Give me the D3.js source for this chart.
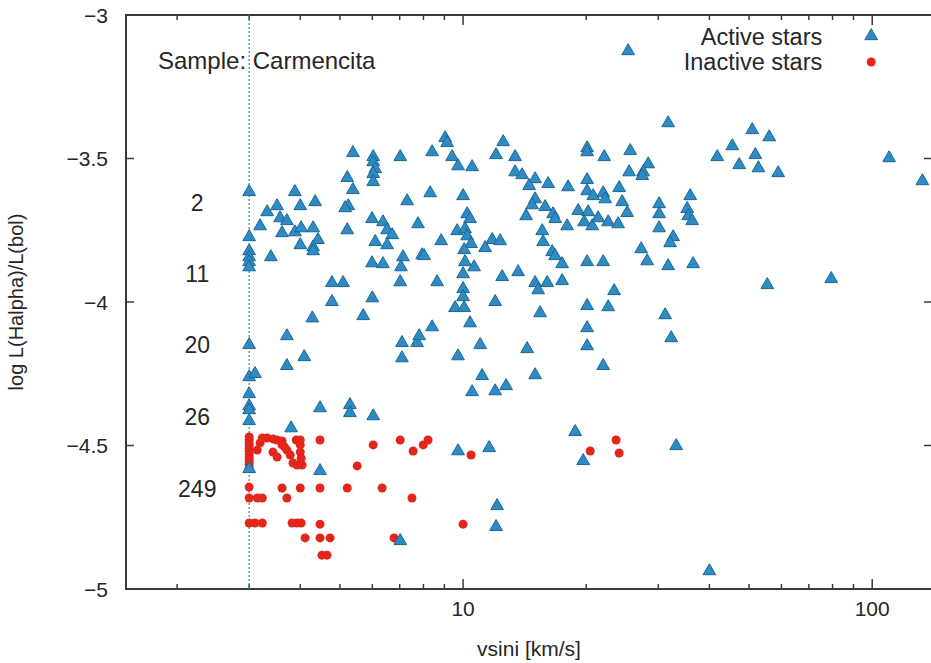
<!DOCTYPE html>
<html>
<head>
<meta charset="utf-8">
<script src="https://cdn.jsdelivr.net/npm/d3@7"></script>
<style>
  body { margin: 0; background: #fff; }
  text { font-family: "Liberation Sans", Arial, Helvetica, sans-serif; fill: #262626; }
</style>
</head>
<body>
<div id="chart"></div>
<script>
// [vsini km/s, log L(Halpha)/L(bol)]
var activeStars = [
  [3,-3.62],[3,-3.777],[3,-3.826],[3,-3.847],[3,-3.864],[3,-3.882],[3,-4.153],[3,-4.265],
  [3,-4.324],[3,-4.366],[3,-4.38],[3,-4.418],[3,-4.585],[3.10,-4.254],
  [3.88,-3.62],[4.35,-3.655],[3.51,-3.669],[3.32,-3.69],[4.00,-3.669],[3.57,-3.711],[3.71,-3.721],
  [3.19,-3.739],[3.61,-3.763],[3.88,-3.76],[4.02,-3.746],[4.30,-3.746],[4.42,-3.787],[4.00,-3.805],
  [4.30,-3.812],[4.30,-3.826],[3.39,-3.847],[5.21,-3.571],[5.38,-3.613],[5.38,-3.484],[6.03,-3.498],
  [6.03,-3.516],[6.10,-3.54],[6.03,-3.557],[6.03,-3.585],[7.02,-3.498],[5.24,-3.669],[5.15,-3.676],
  [5.21,-3.753],[5.99,-3.714],[6.37,-3.725],[6.52,-3.753],[6.71,-3.77],[6.10,-3.794],[6.52,-3.805],
  [7.30,-3.652],[8.31,-3.624],[7.76,-3.732],[7.94,-3.84],[8.03,-3.843],[7.13,-3.847],[5.99,-3.868],
  [6.37,-3.871],[7.05,-3.882],[4.78,-3.937],[5.09,-3.937],[7.02,-3.934],[6.0,-3.99],[4.78,-4.003],
  [4.28,-4.06],[5.70,-4.052],[8.64,-3.934],[3.71,-4.122],[4.09,-4.195],[3.71,-4.226],[4.47,-4.373],
  [5.29,-4.362],[5.29,-4.39],[6.03,-4.401],[3.80,-4.443],[7.09,-4.146],[7.72,-4.146],[7.81,-4.122],
  [7.09,-4.199],[8.40,-4.091],[4.47,-4.592],[7.02,-4.836],
  [9.04,-3.432],[9.14,-3.449],[8.40,-3.481],[12.53,-3.446],[12.04,-3.491],[13.40,-3.498],[9.40,-3.498],
  [9.72,-3.53],[10.52,-3.533],[13.40,-3.551],[13.94,-3.561],[15.0,-3.575],[14.50,-3.599],[16.14,-3.592],
  [18.06,-3.603],[20.1,-3.467],[20.1,-3.481],[22.13,-3.498],[20.1,-3.578],[20.1,-3.617],[20.8,-3.634],
  [22.0,-3.624],[22.25,-3.645],[24.07,-3.606],[24.48,-3.655],[10.0,-3.634],[15.0,-3.645],[14.75,-3.666],
  [15.87,-3.672],[16.60,-3.697],[16.79,-3.714],[14.26,-3.704],[19.11,-3.686],[20.22,-3.69],[19.77,-3.725],
  [20.68,-3.739],[21.38,-3.711],[22.63,-3.725],[23.93,-3.732],[17.96,-3.739],[10.23,-3.697],[10.40,-3.714],
  [9.67,-3.756],[10.11,-3.749],[10.23,-3.774],[8.84,-3.791],[11.78,-3.787],[12.32,-3.791],[10.46,-3.801],
  [10.06,-3.822],[11.32,-3.815],[15.61,-3.756],[15.69,-3.794],[16.51,-3.829],[16.79,-3.843],[17.46,-3.871],
  [20.1,-3.864],[22.0,-3.864],[10.11,-3.864],[10.64,-3.882],
  [10.0,-3.906],[12.46,-3.916],[13.63,-3.899],[15.0,-3.937],[16.05,-3.937],[15.26,-3.962],[17.46,-3.93],
  [23.40,-3.965],[10.0,-3.958],[10.0,-3.986],[9.56,-4.024],[10.06,-4.024],[11.98,-4.003],[15.43,-4.042],
  [20.1,-4.017],[22.63,-4.021],[10.40,-4.077],[20.1,-4.094],[11.01,-4.153],[14.34,-4.167],[20.1,-4.157],
  [9.72,-4.192],[22.0,-4.226],[11.13,-4.261],[15.0,-4.258],[10.52,-4.317],[11.98,-4.314],[12.74,-4.296],
  [25.32,-3.129],[31.71,-3.38],[50.9,-3.404],[56.0,-3.429],[45.5,-3.46],[41.8,-3.498],[51.8,-3.491],
  [47.3,-3.526],[52.7,-3.537],[58.9,-3.554],[110,-3.502],[132.6,-3.582],[25.61,-3.477],[28.34,-3.523],
  [27.55,-3.551],[27.40,-3.564],[25.46,-3.551],[30.14,-3.662],[35.9,-3.634],[35.3,-3.679],[35.5,-3.704],
  [36.3,-3.721],[25.18,-3.693],[30.14,-3.697],[30.14,-3.746],[32.62,-3.777],[32.07,-3.798],[27.24,-3.819],
  [28.18,-3.861],[31.71,-3.878],[36.5,-3.871],[55.4,-3.944],[79.4,-3.923],[31.18,-4.049],[32.26,-4.129],
  [9.72,-4.523],[11.58,-4.512],[18.79,-4.456],[19.66,-4.557],[33.18,-4.505],[12.11,-4.714],[12.04,-4.787],
  [40.0,-4.941]
];

var inactiveStars = [
  [3,-4.47],[3,-4.48],[3,-4.49],[3,-4.50],[3,-4.51],[3,-4.52],[3,-4.53],[3,-4.54],[3,-4.55],
  [3,-4.56],[3,-4.57],[3,-4.58],[3,-4.645],[3,-4.683],[3,-4.77],
  [3.14,-4.516],[3.19,-4.491],[3.23,-4.474],[3.32,-4.474],[3.43,-4.477],[3.51,-4.481],[3.61,-4.484],
  [3.43,-4.523],[3.51,-4.54],[3.71,-4.516],[3.78,-4.533],[3.84,-4.561],[3.93,-4.568],[4.00,-4.481],
  [4.00,-4.498],[4.00,-4.523],[4.02,-4.544],[4.04,-4.568],[3.61,-4.498],[3.91,-4.481],[3.66,-4.505],
  [4.47,-4.481],[6.03,-4.498],[7.02,-4.481],[7.55,-4.519],[7.99,-4.498],[8.21,-4.481],[5.51,-4.571],
  [10.46,-4.533],[20.45,-4.519],[23.66,-4.481],[24.07,-4.526],
  [3.61,-4.648],[4.00,-4.648],[4.47,-4.648],[5.21,-4.648],[6.34,-4.648],[3.71,-4.683],[7.50,-4.683],
  [3.14,-4.683],[3.23,-4.683],[3.10,-4.77],[3.23,-4.77],[3.82,-4.77],[3.93,-4.77],[4.02,-4.77],
  [4.47,-4.774],[10.0,-4.774],[4.11,-4.822],[4.47,-4.822],[4.73,-4.822],[6.78,-4.822],[4.52,-4.882],
  [4.65,-4.882]
];

// star counts per activity level, written left of the plot
var countLabels = ["2", "11", "20", "26", "249"];
var countLevels = [-3.655, -3.9, -4.15, -4.4, -4.65];
var countVsini = 2.24;
var sampleLimit = 3;

var xMajor = [10, 100];
var xMinor = [2, 3, 4, 5, 6, 7, 8, 9, 20, 30, 40, 50, 60, 70, 80, 90];
var yTicks = [-3, -3.5, -4, -4.5, -5];

var W = 931, H = 663;
var margin = {top: 15, right: -1, bottom: 74, left: 126},
    width = W - margin.left - margin.right,
    height = H - margin.top - margin.bottom;

var svg = d3.select("#chart")
  .append("svg")
    .attr("width", W)
    .attr("height", H)
  .append("g")
    .attr("transform", "translate(" + margin.left + "," + margin.top + ")");

var x = d3.scaleLog()
  .domain([1.5, 140])
  .range([0, width]);

var y = d3.scaleLinear()
  .domain([-5, -3])
  .range([height, 0]);

var axisColor = "#3a3a3a";
var fmt = d3.format("");

// bottom / top axes (ticks inward, gnuplot style)
function xAxis(g, ticks, size, top) {
  g.selectAll(null)
    .data(ticks)
    .enter().append("line")
      .attr("x1", function(d) { return x(d); })
      .attr("x2", function(d) { return x(d); })
      .attr("y1", top ? 0 : height)
      .attr("y2", top ? size : height - size)
      .attr("stroke", axisColor)
      .attr("stroke-width", 1.5);
}
var gx = svg.append("g");
xAxis(gx, xMajor, 10, false);
xAxis(gx, xMinor, 5, false);
xAxis(gx, xMajor, 10, true);
xAxis(gx, xMinor, 5, true);

gx.selectAll(".xlab")
  .data(xMajor)
  .enter().append("text")
    .attr("x", function(d) { return x(d); })
    .attr("y", height + 27)
    .attr("text-anchor", "middle")
    .style("font-size", "21px")
    .text(function(d) { return fmt(d); });

// left / right ticks
var gy = svg.append("g");
gy.selectAll(".yl")
  .data(yTicks)
  .enter().append("line")
    .attr("x1", 0).attr("x2", 8)
    .attr("y1", function(d) { return y(d); })
    .attr("y2", function(d) { return y(d); })
    .attr("stroke", axisColor).attr("stroke-width", 1.5);
gy.selectAll(".yr")
  .data(yTicks)
  .enter().append("line")
    .attr("x1", width).attr("x2", width - 8)
    .attr("y1", function(d) { return y(d); })
    .attr("y2", function(d) { return y(d); })
    .attr("stroke", axisColor).attr("stroke-width", 1.5);
gy.selectAll(".ylab")
  .data(yTicks)
  .enter().append("text")
    .attr("x", -18)
    .attr("y", function(d) { return y(d); })
    .attr("dy", "0.36em")
    .attr("text-anchor", "end")
    .style("font-size", "21px")
    .text(function(d) { return fmt(d).replace("-", "\u2212"); });

// frame
svg.append("rect")
  .attr("width", width)
  .attr("height", height)
  .attr("fill", "none")
  .attr("stroke", axisColor)
  .attr("stroke-width", 2);

// sample limit line
svg.append("line")
  .attr("x1", x(sampleLimit)).attr("x2", x(sampleLimit))
  .attr("y1", 0).attr("y2", height)
  .attr("stroke", "#1f9a7c")
  .attr("stroke-width", 1.2)
  .attr("stroke-dasharray", "2,2");

var tri = d3.symbol().type(d3.symbolTriangle).size(70);

// inactive stars
svg.append("g")
  .selectAll("circle")
  .data(inactiveStars)
  .enter().append("circle")
    .attr("cx", function(d) { return x(d[0]); })
    .attr("cy", function(d) { return y(d[1]); })
    .attr("r", 4.5)
    .style("fill", "#e3261b");

// active stars
svg.append("g")
  .selectAll("path")
  .data(activeStars)
  .enter().append("path")
    .attr("d", tri)
    .attr("transform", function(d) { return "translate(" + x(d[0]) + "," + (y(d[1]) - 1) + ")"; })
    .style("fill", "#2f8bc4")
    .style("stroke", "#1c6796")
    .style("stroke-width", 1);

// counts
svg.append("g")
  .selectAll("text")
  .data(countLabels)
  .enter().append("text")
    .attr("x", x(countVsini))
    .attr("y", function(d, i) { return y(countLevels[i]); })
    .attr("dy", "0.36em")
    .attr("text-anchor", "middle")
    .style("font-size", "23px")
    .text(function(d) { return d; });

svg.append("text")
  .attr("x", 32)
  .attr("y", 45)
  .attr("dy", "0.36em")
  .style("font-size", "24px")
  .text("Sample: Carmencita");

// legend
var legend = svg.append("g").attr("transform", "translate(" + (x(100) - 50) + ",22)");
legend.append("text").attr("x", 0).attr("y", 0).attr("dy", "0.36em")
  .attr("text-anchor", "end").style("font-size", "23.5px").text("Active stars");
legend.append("text").attr("x", 0).attr("y", 25).attr("dy", "0.36em")
  .attr("text-anchor", "end").style("font-size", "23.5px").text("Inactive stars");
legend.append("path").attr("d", tri)
  .attr("transform", "translate(49,-1)")
  .style("fill", "#2f8bc4").style("stroke", "#1c6796").style("stroke-width", 1);
legend.append("circle").attr("cx", 49).attr("cy", 25).attr("r", 4.5)
  .style("fill", "#e3261b");

// axis titles
svg.append("text")
  .attr("x", width / 2)
  .attr("y", height + 67)
  .attr("text-anchor", "middle")
  .style("font-size", "21px")
  .text("vsini [km/s]");

svg.append("text")
  .attr("transform", "translate(" + (-103) + "," + (height / 2) + ") rotate(-90)")
  .attr("text-anchor", "middle")
  .style("font-size", "20px")
  .text("log L(Halpha)/L(bol)");
</script>
</body>
</html>
